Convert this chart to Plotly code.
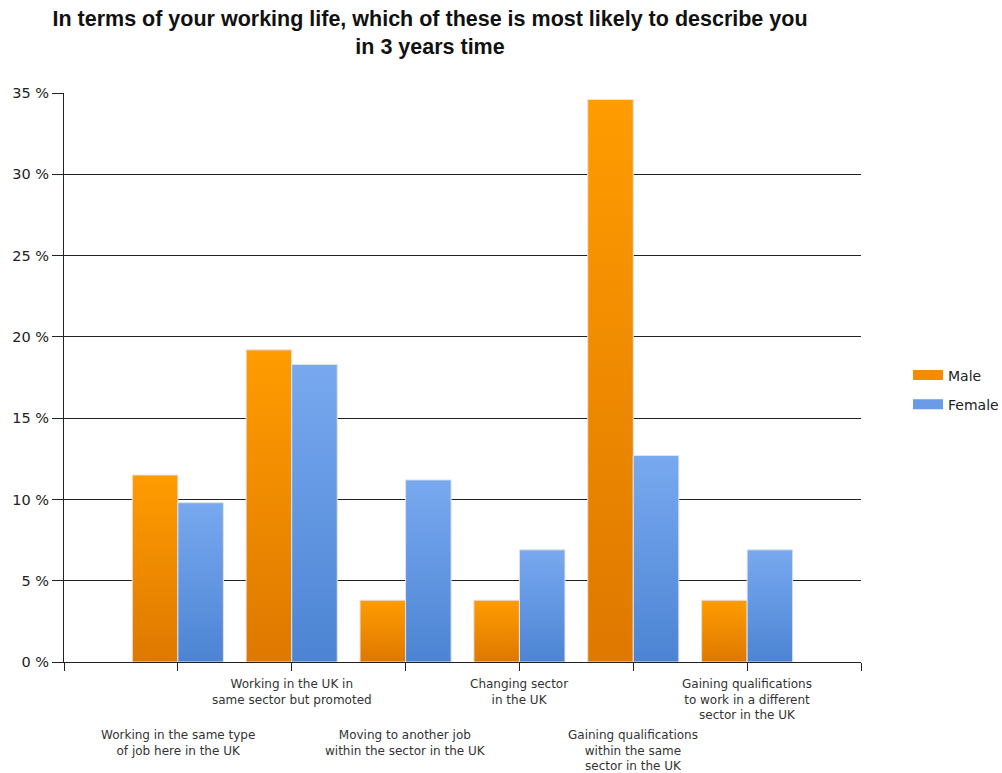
import plotly.graph_objects as go

# Survey answers (x-axis categories)
categories = [
    "Working in the same type<br>of job here in the UK",
    "Working in the UK in<br>same sector but promoted",
    "Moving to another job<br>within the sector in the UK",
    "Changing sector<br>in the UK",
    "Gaining qualifications<br>within the same<br>sector in the UK",
    "Gaining qualifications<br>to work in a different<br>sector in the UK",
]
# Share of respondents, percent
male = [11.5, 19.2, 3.8, 3.8, 34.6, 3.8]
female = [9.8, 18.3, 11.2, 6.9, 12.7, 6.9]
y_ticks = [0, 5, 10, 15, 20, 25, 30, 35]
y_tick_text = [f"{v} %" for v in y_ticks]

series = [
    ("Male", male, -0.4, [[0, "#DE7800"], [1, "#FF9C00"]], "#F28C00"),
    ("Female", female, 0.0, [[0, "#4C84D3"], [1, "#78A9F0"]], "#6A9BE6"),
]
BAR_W = 0.4

fig = go.Figure()
for name, values, offset, scale, solid in series:
    # one filled shape per bar so each gets its own top-to-bottom shading
    for i, v in enumerate(values):
        pos = i + 1
        x0, x1 = pos + offset, pos + offset + BAR_W
        fig.add_trace(go.Scatter(
            x=[x0, x0, x1, x1, x0],
            y=[0, v, v, 0, 0],
            mode="lines",
            fill="toself",
            fillgradient=dict(type="vertical", colorscale=scale),
            line=dict(color="#E2E2E2", width=1),
            name=name,
            legendgroup=name,
            showlegend=False,
            hoverinfo="skip",
        ))
    # legend entry
    fig.add_trace(go.Scatter(
        x=[None], y=[None], mode="lines",
        line=dict(color=solid, width=11),
        name=name, legendgroup=name, showlegend=True,
    ))

# Category labels, alternating between two rows under the axis
for i, label in enumerate(categories):
    fig.add_annotation(
        x=i + 1, y=0, xref="x", yref="y",
        text=label, showarrow=False,
        xanchor="center", yanchor="top",
        yshift=-13 if i % 2 == 1 else -64,
        font=dict(family="DejaVu Sans", size=12, color="#333333"),
    )

fig.update_layout(
    width=1002, height=773,
    margin=dict(l=64, r=141, t=93, b=111, autoexpand=False),
    paper_bgcolor="white", plot_bgcolor="white",
    title=dict(
        text="In terms of your working life, which of these is most likely to describe you<br>in 3 years time",
        x=430 / 1002, xref="container", xanchor="center",
        y=1 - 26 / 773, yref="container", yanchor="top",
        font=dict(family="Liberation Sans", size=21.5, color="#111111", weight="bold"),
    ),
    legend=dict(
        x=1.059, y=0.478, xanchor="left", yanchor="middle",
        font=dict(family="DejaVu Sans", size=14, color="#222222"),
        tracegroupgap=8,
    ),
    showlegend=True,
)

fig.update_xaxes(
    range=[0, 7], tickvals=list(range(8)), ticktext=[""] * 8,
    ticks="outside", ticklen=8, tickcolor="#222222", tickwidth=1,
    showline=True, linecolor="#222222", linewidth=1,
    showgrid=False, zeroline=False,
)
fig.update_yaxes(
    range=[0, 35], tickvals=y_ticks, ticktext=y_tick_text,
    ticks="outside", ticklen=11, tickcolor="#222222", tickwidth=1,
    showline=True, linecolor="#222222", linewidth=1,
    showgrid=True, gridcolor="#222222", gridwidth=1,
    zeroline=False,
    tickfont=dict(family="DejaVu Sans", size=14.5, color="#222222"),
)

fig.write_html("out.html")
